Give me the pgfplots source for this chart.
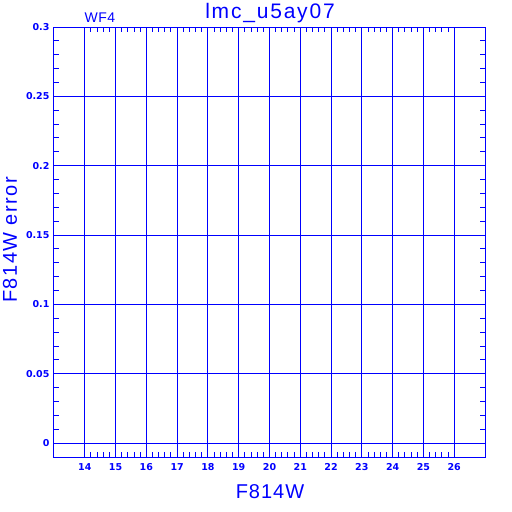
\documentclass[border=0pt]{standalone}
\usepackage{fontspec}
\setmainfont{Liberation Sans}
\newfontfamily\tickfont{DejaVu Sans}
\usepackage{pgfplots}
\pgfplotsset{compat=1.18}
\definecolor{pblue}{RGB}{0,0,255}
\newcommand\ka{\kern1.8pt}
\newcommand\kb{\kern1.5pt}
\newcommand\kc{\kern1pt}
\begin{document}
\begin{tikzpicture}[x=1pt,y=1pt]
\path[use as bounding box] (0,0) rectangle (512,512);
\begin{axis}[
  at={(54pt,55pt)}, anchor=south west,
  scale only axis, width=431pt, height=430pt,
  xmin=13, xmax=27, ymin=-0.01, ymax=0.3,
  xtick={14,...,26},
  ytick={0,0.05,0.1,0.15,0.2,0.25,0.3},
  yticklabels={0,0.05,0.1,0.15,0.2,0.25,0.3},
  minor x tick num=4, minor y tick num=4,
  grid=major,
  major grid style={pblue, line width=1pt},
  axis line style={pblue, line width=1pt},
  every tick/.style={pblue, line width=1pt},
  major tick length=0pt,
  minor tick length=5pt,
  tick align=inside,
  /pgf/number format/assume math mode=true,
  ticklabel style={font=\tickfont\bfseries\fontsize{9.5}{9.5}\selectfont, text=pblue},
  xticklabel style={yshift=-3pt},
  yticklabel style={xshift=-1pt},
]
\end{axis}
\node[text=pblue, font=\fontsize{21}{21}\selectfont] at (270,499) {l\ka m\ka c\ka\_\ka u\ka 5\ka a\ka y\ka 0\ka 7};
\node[text=pblue, font=\fontsize{14}{14}\selectfont] at (100,494) {W\kern.5pt F\kern.5pt 4};
\node[text=pblue, font=\fontsize{20}{20}\selectfont] at (270,20) {F\kc 8\kc 1\kc 4\kc W};
\node[text=pblue, font=\fontsize{20}{20}\selectfont, rotate=90] at (10,272) {F\kb 8\kb 1\kb 4\kb W\hspace{7pt}e\kb r\kb r\kb o\kb r};
\end{tikzpicture}
\end{document}
